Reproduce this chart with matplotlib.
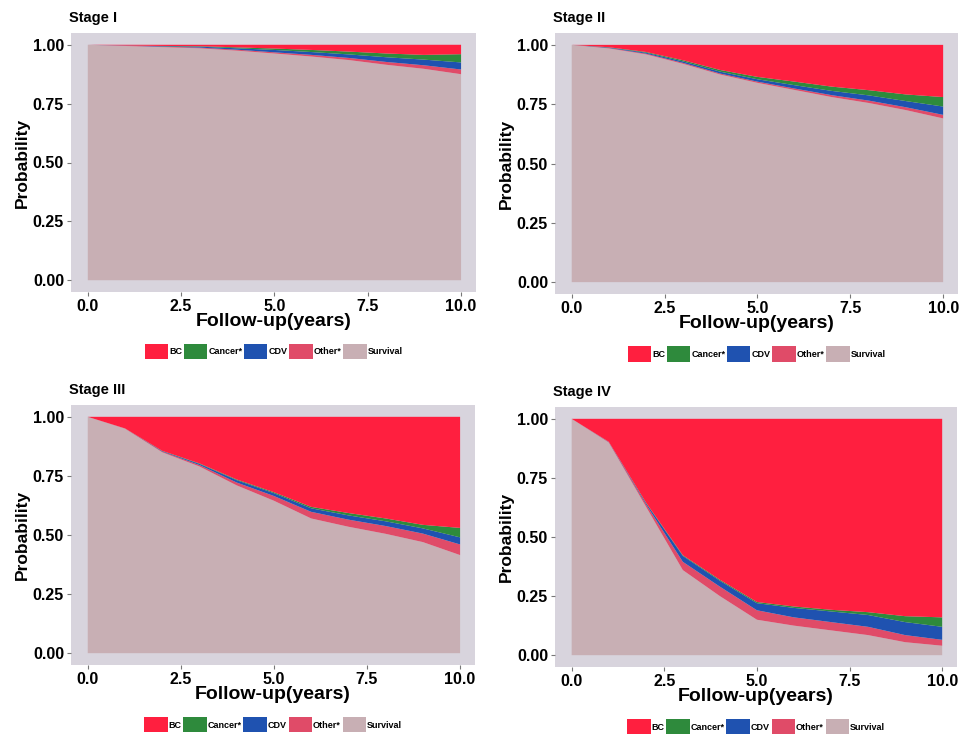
import matplotlib
matplotlib.use('Agg')
import matplotlib.pyplot as plt
from matplotlib.patches import Patch

plt.rcParams['font.family'] = ['Liberation Sans', 'DejaVu Sans']
plt.rcParams['font.weight'] = 'bold'

# Follow-up years
years = [0, 1, 2, 3, 4, 5, 6, 7, 8, 9, 10]

# Stage I
s1_surv = [1.0, 0.995, 0.99, 0.985, 0.975, 0.963, 0.95, 0.935, 0.915, 0.898, 0.875]
s1_other = [0, 0.001, 0.002, 0.003, 0.004, 0.005, 0.007, 0.009, 0.012, 0.015, 0.02]
s1_cdv = [0, 0.001, 0.002, 0.004, 0.006, 0.01, 0.012, 0.015, 0.02, 0.024, 0.03]
s1_cancer = [0, 0, 0.001, 0.002, 0.004, 0.006, 0.009, 0.012, 0.016, 0.02, 0.035]
s1_bc = [0, 0.003, 0.005, 0.006, 0.011, 0.016, 0.022, 0.029, 0.037, 0.043, 0.04]

# Stage II
s2_surv = [1.0, 0.985, 0.96, 0.92, 0.875, 0.84, 0.81, 0.78, 0.755, 0.725, 0.69]
s2_other = [0, 0.002, 0.003, 0.004, 0.004, 0.005, 0.006, 0.008, 0.01, 0.012, 0.015]
s2_cdv = [0, 0.002, 0.004, 0.006, 0.008, 0.01, 0.014, 0.018, 0.022, 0.026, 0.035]
s2_cancer = [0, 0.001, 0.003, 0.005, 0.007, 0.01, 0.015, 0.018, 0.022, 0.028, 0.04]
s2_bc = [0, 0.01, 0.03, 0.065, 0.106, 0.135, 0.155, 0.176, 0.191, 0.209, 0.22]

# Stage III
s3_surv = [1.0, 0.95, 0.85, 0.79, 0.71, 0.645, 0.57, 0.535, 0.505, 0.47, 0.415]
s3_other = [0, 0.001, 0.003, 0.006, 0.012, 0.02, 0.028, 0.03, 0.033, 0.036, 0.045]
s3_cdv = [0, 0, 0.002, 0.005, 0.01, 0.012, 0.015, 0.018, 0.02, 0.022, 0.03]
s3_cancer = [0, 0, 0.001, 0.002, 0.003, 0.004, 0.006, 0.01, 0.012, 0.015, 0.04]
s3_bc = [0, 0.049, 0.144, 0.197, 0.265, 0.319, 0.381, 0.407, 0.43, 0.457, 0.47]

# Stage IV
s4_surv = [1.0, 0.9, 0.63, 0.36, 0.25, 0.15, 0.125, 0.105, 0.085, 0.055, 0.04]
s4_other = [0, 0.002, 0.01, 0.035, 0.04, 0.04, 0.035, 0.035, 0.035, 0.03, 0.025]
s4_cdv = [0, 0.001, 0.005, 0.025, 0.025, 0.03, 0.04, 0.045, 0.05, 0.055, 0.055]
s4_cancer = [0, 0, 0.002, 0.003, 0.004, 0.005, 0.006, 0.007, 0.012, 0.025, 0.04]
s4_bc = [0, 0.097, 0.353, 0.577, 0.681, 0.775, 0.794, 0.808, 0.818, 0.835, 0.84]

titles = ['Stage I', 'Stage II', 'Stage III', 'Stage IV']
labels = ['BC', 'Cancer*', 'CDV', 'Other*', 'Survival']
xticks = [0, 2.5, 5, 7.5, 10]
yticks = [0, 0.25, 0.5, 0.75, 1.0]

c_bc = '#ff1f3f'
c_cancer = '#2e8a3c'
c_cdv = '#1f52b0'
c_other = '#e04b68'
c_surv = '#c8afb4'
c_panel = '#d8d4dd'

stages = [
    (s1_surv, s1_other, s1_cdv, s1_cancer, s1_bc),
    (s2_surv, s2_other, s2_cdv, s2_cancer, s2_bc),
    (s3_surv, s3_other, s3_cdv, s3_cancer, s3_bc),
    (s4_surv, s4_other, s4_cdv, s4_cancer, s4_bc),
]

W, H = 963, 742
fig = plt.figure(figsize=(W / 100, H / 100), dpi=100)

# panel boxes in pixels: left, right, top, bottom
boxes = [(71, 476, 33, 292), (555, 958, 33, 294), (71, 475, 405, 665), (555, 957, 407, 667)]

for k in range(4):
    l, r, t, b = boxes[k]
    ax = fig.add_axes([l / W, 1 - b / H, (r - l) / W, (b - t) / H])
    ax.set_facecolor(c_panel)
    surv, other, cdv, cancer, bc = stages[k]
    ax.stackplot(years, surv, other, cdv, cancer, bc,
                 colors=[c_surv, c_other, c_cdv, c_cancer, c_bc], lw=0)
    ax.set_xlim(-0.45, 10.4)
    ax.set_ylim(-0.05, 1.05)
    ax.set_xticks(xticks)
    ax.set_xticklabels(['0.0', '2.5', '5.0', '7.5', '10.0'])
    ax.set_yticks(yticks)
    ax.set_yticklabels(['0.00', '0.25', '0.50', '0.75', '1.00'])
    ax.tick_params(labelsize=11.5, length=3, color='#777777', width=0.8, pad=2)
    for sp in ax.spines.values():
        sp.set_visible(False)
    ax.set_xlabel('Follow-up(years)', fontsize=14, fontweight='bold', labelpad=-1)
    ax.set_ylabel('Probability', fontsize=12.5, fontweight='bold', labelpad=2)
    ax.set_title(titles[k], fontsize=10.5, fontweight='bold', loc='left', x=-0.005, pad=8)

    handles = [Patch(facecolor=c, edgecolor='none') for c in [c_bc, c_cancer, c_cdv, c_other, c_surv]]
    ax.legend(handles, labels, loc='center', bbox_to_anchor=(0.5, -0.23), ncol=5, frameon=False,
              fontsize=6.5, handlelength=2.6, handleheight=2.2, handletextpad=0.1, columnspacing=0.2,
              borderaxespad=0)

fig.savefig('out.png', dpi=100, facecolor='white')
